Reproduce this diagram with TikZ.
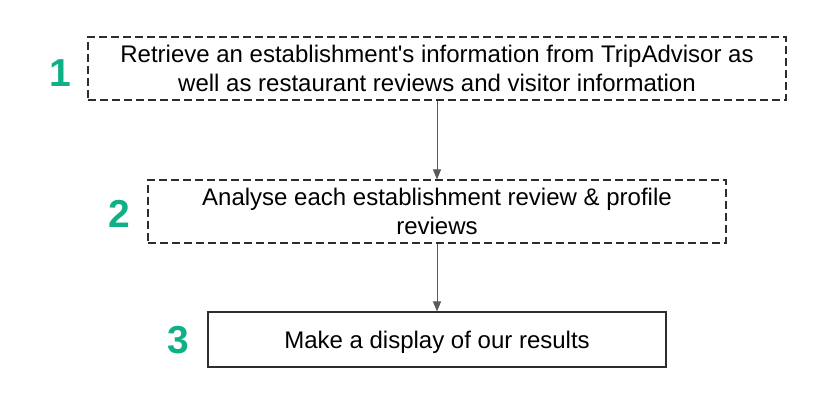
\documentclass[tikz,border=0pt]{standalone}
\usepackage{fontspec}
\setmainfont{Liberation Sans}
\usepackage{tikz}
\usetikzlibrary{arrows.meta}

\definecolor{stepgreen}{RGB}{16,176,134}
\definecolor{boxgray}{RGB}{45,45,45}
\definecolor{arrowgray}{RGB}{90,90,90}

\begin{document}
\begin{tikzpicture}[x=1pt, y=-1pt, every node/.style={font=\fontsize{24}{28.5}\selectfont}]
    \useasboundingbox (0,0) rectangle (833,419);

    % steps
    \node[draw=boxgray, line width=1.1pt, dash pattern=on 8pt off 4pt, minimum width=698pt, minimum height=63pt, inner sep=0pt, align=center] (retrieve) at (437,68.5)
        {Retrieve an establishment\textquotesingle s information from TripAdvisor as\\well as restaurant reviews and visitor information};
    \node[draw=boxgray, line width=1.1pt, dash pattern=on 8pt off 4pt, minimum width=578pt, minimum height=63pt, inner sep=0pt, align=center] (analyse) at (437,211.5)
        {Analyse each establishment review \& profile\\reviews};
    \node[draw=boxgray, line width=1.1pt, minimum width=458pt, minimum height=55pt, inner sep=0pt, text depth=0pt] (display) at (437,339.5)
        {Make a display of our results};

    % numbers
    \node[text=stepgreen, font=\fontsize{39}{39}\selectfont\bfseries] (one) at (60,73) {1};
    \node[text=stepgreen, font=\fontsize{39}{39}\selectfont\bfseries] (two) at (119,214) {2};
    \node[text=stepgreen, font=\fontsize{39}{39}\selectfont\bfseries] (three) at (178,340) {3};

    % arrows
    \draw[arrowgray, line width=1pt, -{Triangle[length=10pt, width=8pt]}] (retrieve) -- (analyse);
    \draw[arrowgray, line width=1pt, -{Triangle[length=10pt, width=8pt]}] (analyse) -- (display);
\end{tikzpicture}
\end{document}
